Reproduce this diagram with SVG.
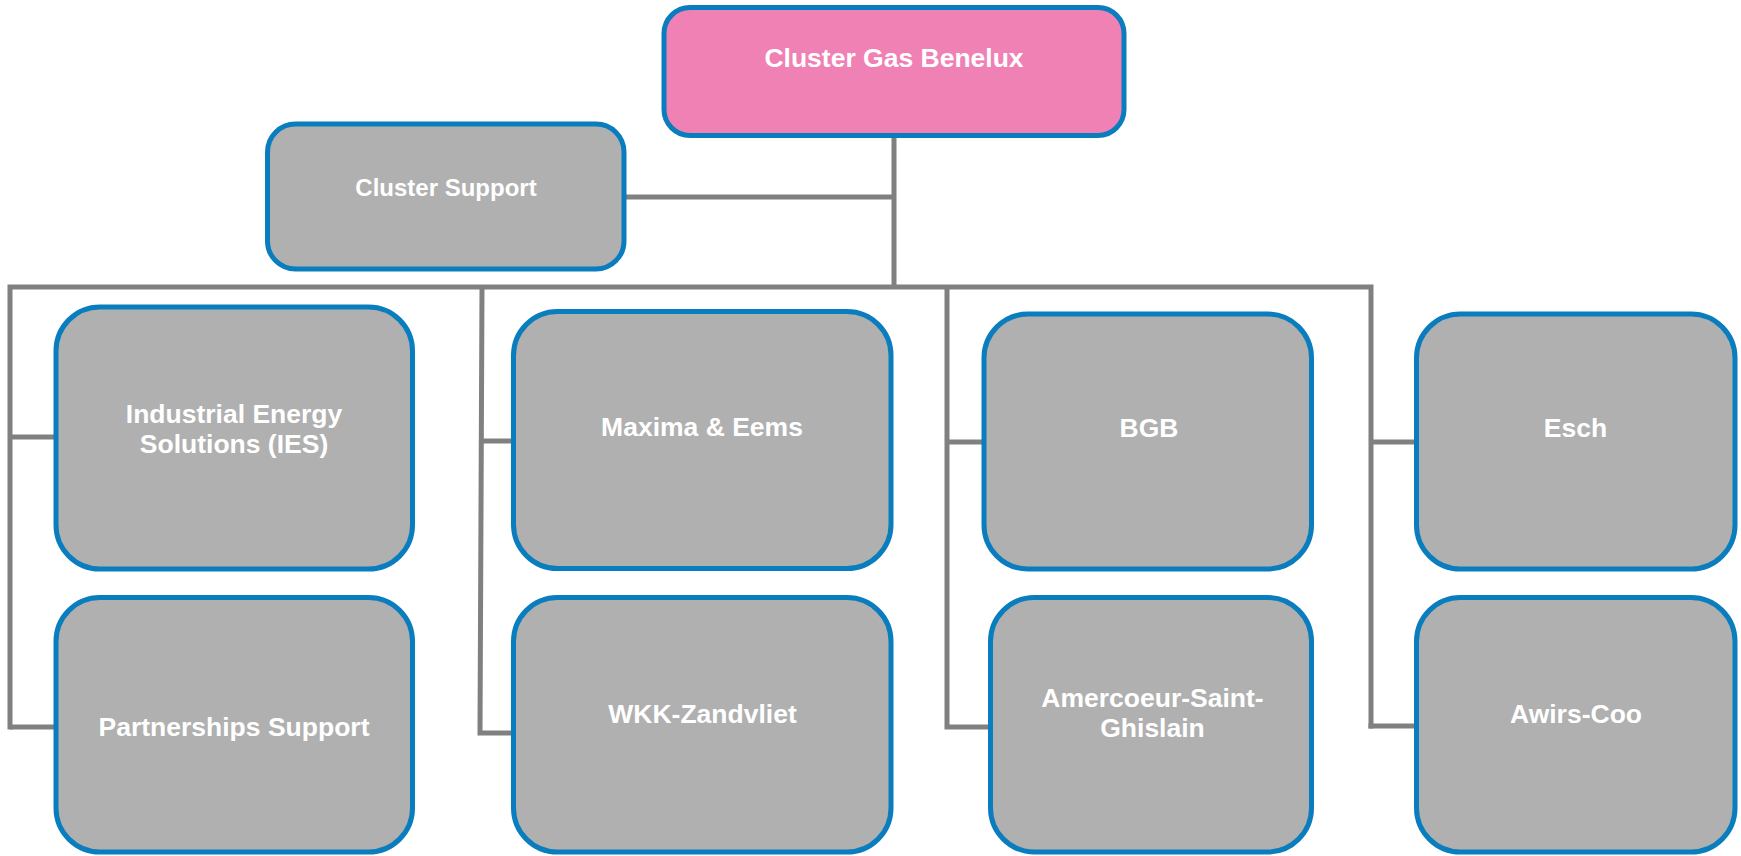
<svg xmlns="http://www.w3.org/2000/svg" width="1741" height="856" viewBox="0 0 1741 856">
<style>
.box{fill:#B0B0B0;stroke:#0A7DBE;stroke-width:5}
.top{fill:#F081B5;stroke:#0A7DBE;stroke-width:5}
.lbl{font-family:"Liberation Sans",Arial,sans-serif;font-weight:bold;font-size:26.5px;fill:#FFFFFF;text-anchor:middle}
.conn{fill:none;stroke:#808080;stroke-width:5;stroke-linejoin:miter;stroke-linecap:butt}
</style>
<rect width="1741" height="856" fill="#FFFFFF"/>
<g id="connectors">
<path class="conn" d="M894,136 V287"/>
<path class="conn" d="M624,197 H894"/>
<path class="conn" d="M10,729.5 V287 H1371 V728.5"/>
<path class="conn" d="M10,437 H56"/>
<path class="conn" d="M10,727 H56"/>
<path class="conn" d="M482,287 L480,733 H513"/>
<path class="conn" d="M481.5,441 H513"/>
<path class="conn" d="M947,287 V727 H990"/>
<path class="conn" d="M947,442 H984"/>
<path class="conn" d="M1371,442 H1416"/>
<path class="conn" d="M1368.5,726 H1416"/>
</g>
<g id="cluster-gas-benelux">
<rect class="top" x="664" y="7.5" width="460" height="128" rx="26"/>
<text class="lbl" x="894" y="67">Cluster Gas Benelux</text>
</g>
<g id="cluster-support">
<rect class="box" x="267.5" y="124" width="356.5" height="145" rx="28"/>
<text class="lbl" x="446" y="196" style="font-size:24px">Cluster Support</text>
</g>
<g id="ies">
<rect class="box" x="56" y="307" width="356.5" height="262" rx="44"/>
<text class="lbl" x="234" y="423">Industrial Energy</text>
<text class="lbl" x="234" y="453">Solutions (IES)</text>
</g>
<g id="maxima-eems">
<rect class="box" x="513.5" y="311.5" width="377.5" height="257" rx="44"/>
<text class="lbl" x="702" y="436">Maxima &amp; Eems</text>
</g>
<g id="bgb">
<rect class="box" x="984" y="314" width="327.5" height="255" rx="44"/>
<text class="lbl" x="1149" y="437">BGB</text>
</g>
<g id="esch">
<rect class="box" x="1416.5" y="314" width="318.5" height="255" rx="44"/>
<text class="lbl" x="1575.5" y="437">Esch</text>
</g>
<g id="partnerships-support">
<rect class="box" x="56" y="597.5" width="356.5" height="254.5" rx="44"/>
<text class="lbl" x="234" y="736">Partnerships Support</text>
</g>
<g id="wkk-zandvliet">
<rect class="box" x="513.5" y="597.5" width="377.5" height="254.5" rx="44"/>
<text class="lbl" x="702.5" y="723">WKK-Zandvliet</text>
</g>
<g id="amercoeur-saint-ghislain">
<rect class="box" x="990.5" y="597.5" width="321" height="254.5" rx="44"/>
<text class="lbl" x="1152.5" y="707">Amercoeur-Saint-</text>
<text class="lbl" x="1152.5" y="737">Ghislain</text>
</g>
<g id="awirs-coo">
<rect class="box" x="1416.5" y="597.5" width="318.5" height="254.5" rx="44"/>
<text class="lbl" x="1576" y="723">Awirs-Coo</text>
</g>
</svg>
